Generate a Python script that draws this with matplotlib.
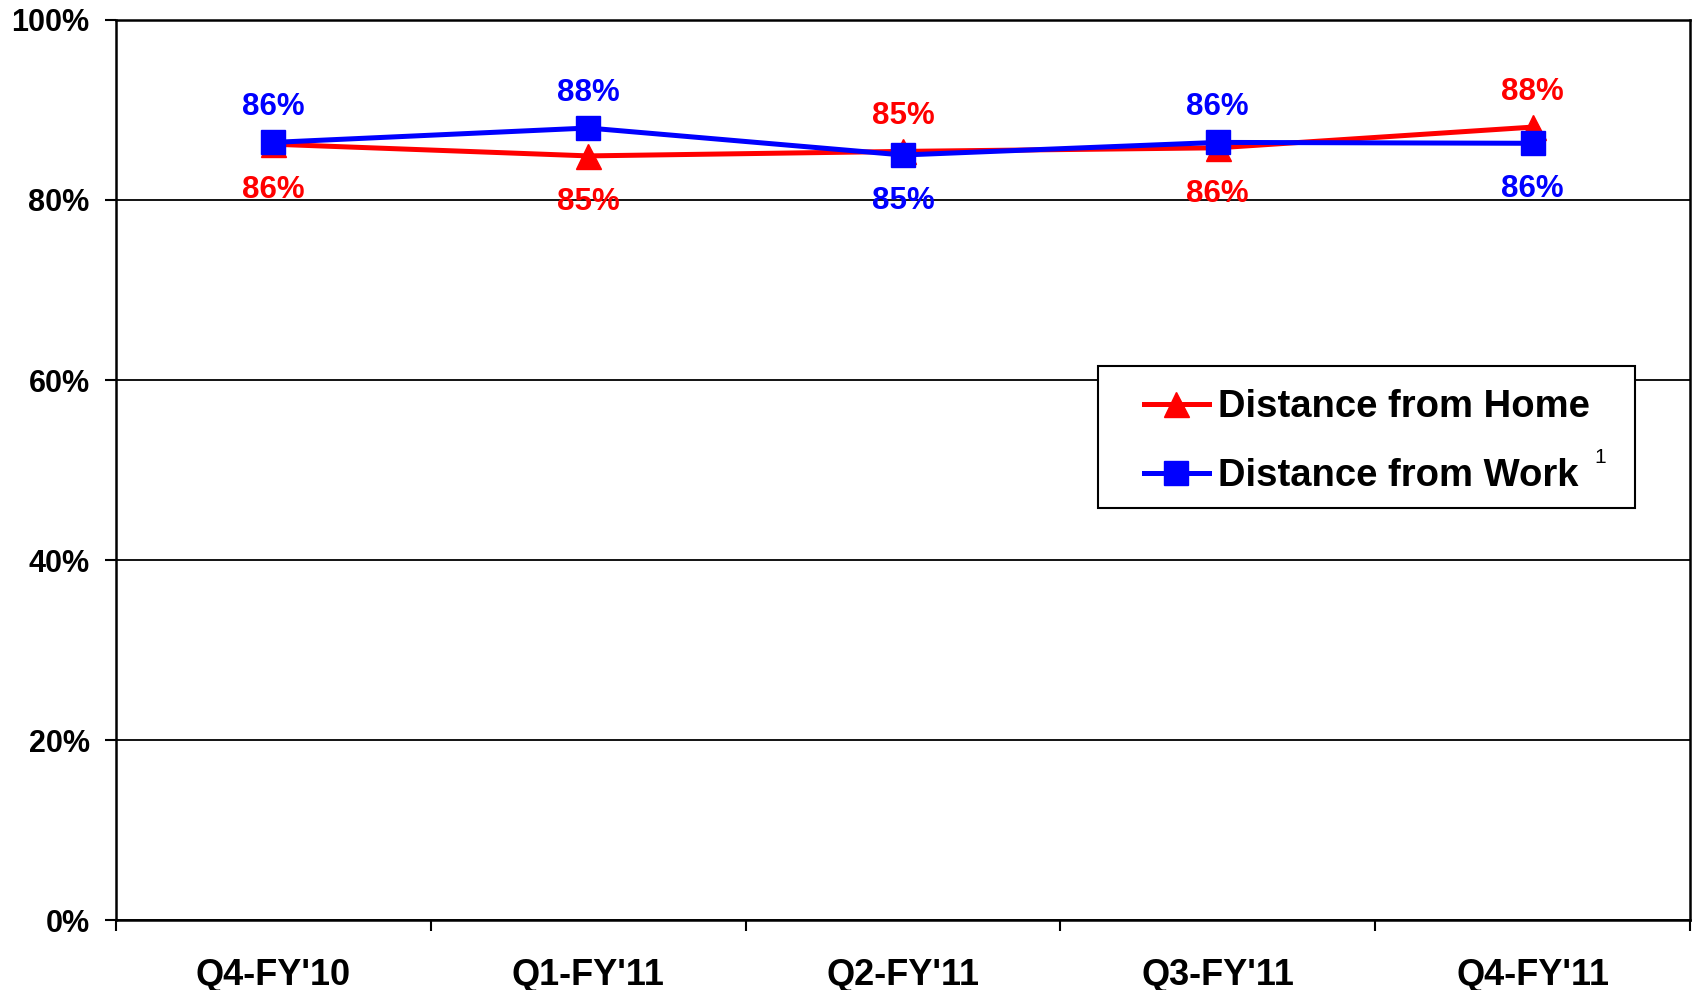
import matplotlib
matplotlib.use("Agg")
import matplotlib.pyplot as plt
from matplotlib.patches import Rectangle
from matplotlib.ticker import FixedLocator, NullFormatter

plt.rcParams['font.family'] = ['Liberation Sans', 'DejaVu Sans']
plt.rcParams['font.weight'] = 'bold'

quarters = ["Q4-FY'10", "Q1-FY'11", "Q2-FY'11", "Q3-FY'11", "Q4-FY'11"]
home = [86.2, 84.9, 85.4, 85.8, 88.1]
work = [86.4, 88.0, 85.0, 86.4, 86.3]
y_ticks = [0, 20, 40, 60, 80, 100]

RED = '#FF0000'
BLUE = '#0000FF'

fig = plt.figure(figsize=(16.99, 9.90), dpi=100)
ax = fig.add_axes([0.0683, 0.0707, 0.9264, 0.9091])

x = list(range(len(quarters)))
ax.plot(x, home, color=RED, lw=3.6, marker='^', markersize=18,
        label='Distance from Home', zorder=3)
ax.plot(x, work, color=BLUE, lw=3.6, marker='s', markersize=17,
        label='Distance from Work', zorder=4)

# value labels: the higher series of each quarter is labelled above, the other below
for i in x:
    for vals, other, col in ((home, work, RED), (work, home, BLUE)):
        above = vals[i] > other[i]
        ax.annotate(f"{vals[i]:.0f}%", (i, vals[i]),
                    xytext=(0, 25.5 if above else -33), textcoords='offset points',
                    ha='center', va='center', color=col, fontsize=22.5,
                    fontweight='bold', zorder=5)

ax.set_xlim(-0.5, len(quarters) - 0.5)
ax.set_ylim(0, 100)
ax.set_yticks(y_ticks)
ax.set_yticklabels([f"{t}%" for t in y_ticks])
ax.yaxis.grid(True, color='black', lw=1.3)
ax.set_axisbelow(True)

ax.set_xticks(x)
ax.set_xticklabels(quarters)
ax.xaxis.set_minor_locator(FixedLocator([i - 0.5 for i in range(len(quarters) + 1)]))
ax.xaxis.set_minor_formatter(NullFormatter())
ax.tick_params(axis='x', which='major', length=0, pad=27, labelsize=26)
ax.tick_params(axis='x', which='minor', length=8, width=1.5, color='black')
ax.tick_params(axis='y', length=8, width=1.5, pad=11, labelsize=22)

for s in ax.spines.values():
    s.set_linewidth(1.8)
    s.set_color('black')

# legend frame drawn as a plain white box over the grid
ax.add_patch(Rectangle((0.624, 0.458), 0.341, 0.158, transform=ax.transAxes,
                       facecolor='white', edgecolor='black', lw=1.5, zorder=6))
leg = ax.legend(loc='center left', bbox_to_anchor=(0.653, 0.5315),
                fontsize=27.5, frameon=False,
                handlelength=1.7, handletextpad=0.23, borderpad=0,
                labelspacing=0.87, borderaxespad=0)
leg.set_zorder(7)
ax.text(0.943, 0.514, '1', transform=ax.transAxes, fontsize=15,
        fontweight='normal', ha='center', va='center', zorder=8)

fig.savefig('out.png', dpi=100)
